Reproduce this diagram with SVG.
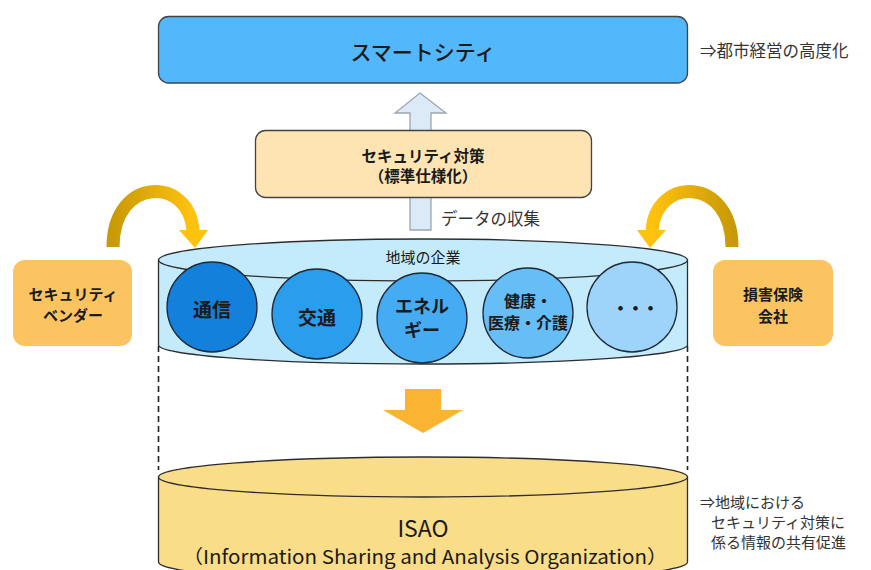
<svg xmlns="http://www.w3.org/2000/svg" width="871" height="570" viewBox="0 0 871 570">
  <style>
    text { font-family: "Noto Sans CJK JP", "Noto Sans", sans-serif; fill: #1a1a1a; text-anchor: middle; dominant-baseline: central; }
    .bold { font-weight: bold; }
    .note { text-anchor: start; font-size: 15px; fill: #333; }
    .note-lg { text-anchor: start; font-size: 16.5px; fill: #333; }
    .box-line { stroke: #444; stroke-width: 1.3; }
    .circle { stroke: #1e2a38; stroke-width: 1.3; }
    .cyl { stroke: #2d2d2d; stroke-width: 1.3; }
    .dash { stroke: #222; stroke-width: 1.6; stroke-dasharray: 6 4; fill: none; }
  </style>
  <defs>
    <linearGradient id="goldL" x1="0" y1="0" x2="1" y2="0">
      <stop offset="0" stop-color="#c99a06"/>
      <stop offset="1" stop-color="#ffc20e"/>
    </linearGradient>
    <linearGradient id="goldR" x1="0" y1="0" x2="1" y2="0">
      <stop offset="0" stop-color="#ffc20e"/>
      <stop offset="1" stop-color="#c99a06"/>
    </linearGradient>
  </defs>

  <!-- smart city -->
  <g id="smart-city">
    <rect x="158.5" y="16.5" width="529" height="66.5" rx="10" fill="#53b7fb" class="box-line"/>
    <text x="423" y="51" font-size="21" font-weight="500">スマートシティ</text>
  </g>
  <g id="note-city">
    <text x="700" y="50" class="note-lg">⇒都市経営の高度化</text>
  </g>

  <!-- connectors -->
  <g id="connectors">
    <!-- data collection arrow -->
    <polygon points="420,93 446,113 431,113 431,230 410,230 410,113 395,113" fill="#dce9f6" stroke="#9aa6b2" stroke-width="1.3"/>
    <!-- vendor arrow -->
    <path d="M113,247 C113,176 190,176 193,231" fill="none" stroke="url(#goldL)" stroke-width="13"/>
    <polygon points="179,230 208,230 195,248" fill="#ffc20e"/>
    <!-- insurer arrow -->
    <path d="M732,247 C732,176 655,176 652,231" fill="none" stroke="url(#goldR)" stroke-width="13"/>
    <polygon points="637,230 666,230 650,248" fill="#ffc20e"/>
    <!-- dashed guides -->
    <line x1="158.5" y1="346" x2="158.5" y2="470" class="dash"/>
    <line x1="687.5" y1="346" x2="687.5" y2="470" class="dash"/>
    <!-- down arrow -->
    <polygon points="405,389 441,389 441,410 463,410 423,433 383,410 405,410" fill="#fbb431"/>
  </g>

  <!-- security measures -->
  <g id="security-measures">
    <rect x="255.5" y="130.5" width="336" height="67" rx="10" fill="#fde4b2" class="box-line"/>
    <text x="423" y="155" font-size="15.5" class="bold">セキュリティ対策</text>
    <text x="423" y="175" font-size="15.5" class="bold">（標準仕様化）</text>
  </g>
  <g id="data-label">
    <text x="441" y="218" class="note-lg">データの収集</text>
  </g>

  <!-- side actors -->
  <g id="vendor">
    <rect x="13" y="260" width="119" height="86" rx="12" fill="#fbc460"/>
    <text x="73" y="293" font-size="15" class="bold">セキュリティ</text>
    <text x="73" y="314" font-size="15" class="bold">ベンダー</text>
  </g>
  <g id="insurer">
    <rect x="713" y="260" width="120" height="86" rx="12" fill="#fbc460"/>
    <text x="773" y="293" font-size="15" class="bold">損害保険</text>
    <text x="773" y="315" font-size="15" class="bold">会社</text>
  </g>

  <!-- regional companies cylinder -->
  <g id="regional-companies">
    <path d="M158.5,260 L158.5,345 A264.5,19 0 0 0 687.5,345 L687.5,260 Z" fill="#c4ebfc" class="cyl"/>
    <ellipse cx="423" cy="260" rx="264.5" ry="21" fill="#c4ebfc" class="cyl"/>
    <text x="423" y="256" font-size="15">地域の企業</text>
  </g>
  <g id="telecom">
    <circle cx="212" cy="307" r="45" fill="#1380db" class="circle"/>
    <text x="212" y="308" font-size="19" class="bold">通信</text>
  </g>
  <g id="transport">
    <circle cx="317" cy="314" r="45" fill="#2b9ded" class="circle"/>
    <text x="317" y="316" font-size="19" class="bold">交通</text>
  </g>
  <g id="energy">
    <circle cx="422" cy="318" r="45" fill="#45abf3" class="circle"/>
    <text x="422" y="305" font-size="18" class="bold">エネル</text>
    <text x="422" y="329" font-size="18" class="bold">ギー</text>
  </g>
  <g id="health">
    <circle cx="528" cy="313" r="45" fill="#67bdf6" class="circle"/>
    <text x="528" y="300" font-size="16" class="bold">健康・</text>
    <text x="528" y="322" font-size="16" class="bold">医療・介護</text>
  </g>
  <g id="others">
    <circle cx="632" cy="307" r="45" fill="#9fd4fa" class="circle"/>
    <text x="634" y="307" font-size="18" class="bold" letter-spacing="-3">・・・</text>
  </g>

  <!-- ISAO cylinder -->
  <g id="isao">
    <path d="M158.5,477 L158.5,562 A264.5,20 0 0 0 687.5,562 L687.5,477 Z" fill="#f9dd88" class="cyl"/>
    <ellipse cx="423" cy="477" rx="264.5" ry="20" fill="#f9dd88" class="cyl"/>
    <text x="423" y="527" font-size="23">ISAO</text>
    <text x="425" y="555" font-size="19" textLength="485" lengthAdjust="spacingAndGlyphs">（Information Sharing and Analysis Organization）</text>
  </g>
  <g id="note-isao">
    <text x="700" y="501" class="note">⇒地域における</text>
    <text x="711" y="521" class="note">セキュリティ対策に</text>
    <text x="711" y="541" class="note">係る情報の共有促進</text>
  </g>
</svg>
